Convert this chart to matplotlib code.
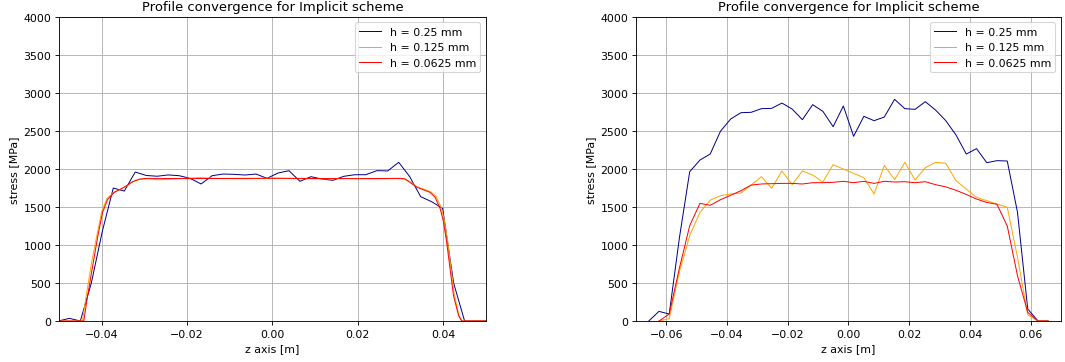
import numpy as np
import matplotlib
matplotlib.use("Agg")
import matplotlib.pyplot as plt

# Coarse-mesh sampling positions (40 element centres per profile)
z_coarse_a = np.linspace(-0.05014, 0.05014, 40)
z_coarse_b = np.linspace(-0.06581, 0.06581, 40)

# Profile A, h = 0.25 mm
stress_a_025 = [
    0, 35, 0, 500, 1180, 1750, 1710, 1960, 1915, 1905,
    1922, 1912, 1877, 1803, 1912, 1934, 1930, 1921, 1934, 1877,
    1947, 1978, 1838, 1899, 1868, 1851, 1904, 1925, 1925, 1978,
    1975, 2088, 1900, 1636, 1570, 1482, 500, 0, 0, 0,
]

# Profile A, finer meshes (sampled at the kinks of the curve)
z_a_0125 = [
    -0.0500, -0.0445, -0.0436, -0.0424, -0.0413, -0.0400, -0.0388, -0.0372,
    -0.0356, -0.0344, -0.0328, -0.0312, -0.0295, -0.0264, -0.0240, -0.0200,
    -0.0170, -0.0120, -0.0060, 0.0000, 0.0060, 0.0120, 0.0180, 0.0240,
    0.0290, 0.0310, 0.0323, 0.0339, 0.0355, 0.0371, 0.0383, 0.0395,
    0.0402, 0.0410, 0.0418, 0.0426, 0.0437, 0.0444, 0.0500,
]
stress_a_0125 = [
    0, 0, 340, 760, 1080, 1440, 1610, 1690,
    1735, 1770, 1830, 1862, 1872, 1858, 1866, 1878,
    1888, 1874, 1872, 1880, 1874, 1870, 1876, 1870,
    1874, 1868, 1830, 1765, 1735, 1700, 1640, 1500,
    1340, 1060, 700, 340, 70, 0, 0,
]

z_a_00625 = [
    -0.0500, -0.0442, -0.0433, -0.0421, -0.0409, -0.0398, -0.0386, -0.0370,
    -0.0354, -0.0343, -0.0327, -0.0311, -0.0292, -0.0200, -0.0100, 0.0000,
    0.0100, 0.0200, 0.0300, 0.0310, 0.0322, 0.0338, 0.0353, 0.0369,
    0.0381, 0.0393, 0.0400, 0.0408, 0.0416, 0.0424, 0.0436, 0.0443,
    0.0500,
]
stress_a_00625 = [
    0, 0, 330, 730, 1120, 1430, 1600, 1695,
    1740, 1775, 1835, 1868, 1877, 1874, 1876, 1878,
    1875, 1873, 1877, 1870, 1825, 1760, 1728, 1693,
    1627, 1474, 1320, 1035, 684, 333, 70, 0,
    0,
]

# Profile B
stress_b_025 = [
    0, 127, 92, 1100, 1965, 2118, 2197, 2496, 2658, 2741,
    2746, 2794, 2798, 2868, 2789, 2649, 2846, 2759, 2557, 2829,
    2430, 2693, 2636, 2684, 2917, 2794, 2785, 2886, 2776, 2636,
    2447, 2197, 2268, 2083, 2110, 2105, 1430, 158, 0, 0,
]
stress_b_0125 = [
    np.nan, 0, 30, 650, 1123, 1430, 1590, 1649, 1671, 1684,
    1789, 1899, 1746, 1974, 1794, 1974, 1921, 1829, 2057, 2000,
    1943, 1886, 1671, 2048, 1860, 2088, 1855, 2017, 2088, 2075,
    1846, 1737, 1627, 1583, 1540, 1496, 838, 83, 0, 0,
]
stress_b_00625 = [
    np.nan, 0, 92, 700, 1254, 1548, 1522, 1596, 1654, 1715,
    1789, 1803, 1807, 1811, 1811, 1803, 1820, 1820, 1825, 1838,
    1820, 1838, 1811, 1838, 1829, 1833, 1820, 1833, 1794, 1765,
    1720, 1665, 1605, 1560, 1535, 1250, 596, 114, 0, 0,
]

labels = ["h = 0.25 mm", "h = 0.125 mm", "h = 0.0625 mm"]
colors = ["darkblue", "orange", "red"]

panels = [
    ((z_coarse_a, stress_a_025), (z_a_0125, stress_a_0125),
     (z_a_00625, stress_a_00625), (-0.05, 0.05)),
    ((z_coarse_b, stress_b_025), (z_coarse_b, stress_b_0125),
     (z_coarse_b, stress_b_00625), (-0.07, 0.07)),
]

DPI = 79
fig = plt.figure(figsize=(1065 / DPI, 363 / DPI), dpi=DPI)
positions = [[0.0554, 0.1129, 0.4009, 0.8375], [0.5972, 0.1129, 0.3990, 0.8375]]

for pos, (s1, s2, s3, xlim) in zip(positions, panels):
    ax = fig.add_axes(pos)
    for (z, s), lab, c in zip((s1, s2, s3), labels, colors):
        ax.plot(z, s, color=c, lw=0.9, label=lab)
    ax.set_xlim(*xlim)
    ax.set_ylim(0, 4000)
    ax.set_yticks(np.arange(0, 4001, 500))
    ax.grid(True)
    ax.set_xlabel("z axis [m]")
    ax.set_ylabel("stress [MPa]")
    ax.set_title("Profile convergence for Implicit scheme")
    ax.legend(loc="upper right")

fig.savefig("out.png", dpi=DPI)
